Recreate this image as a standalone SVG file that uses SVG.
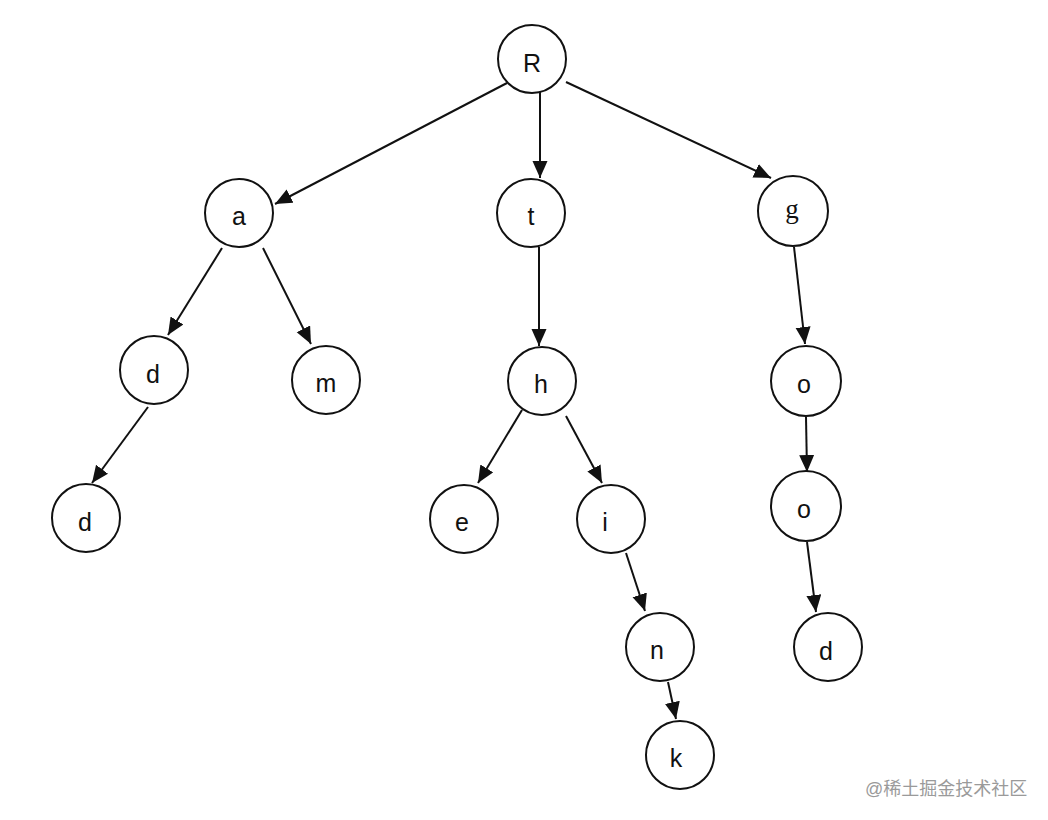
<svg xmlns="http://www.w3.org/2000/svg" width="1048" height="820" viewBox="0 0 1048 820">
<style>
.node circle{fill:#fff;stroke:#111;stroke-width:2}
.node text{font-family:"Liberation Sans","Open Sans",sans-serif;font-size:25px;fill:#111;text-anchor:middle}
.node text.serif{font-family:"Liberation Serif",serif;font-size:27px}
.edges line{stroke:#111;stroke-width:2;marker-end:url(#arr)}
.wm{font-family:"Liberation Sans","Noto Sans CJK SC",sans-serif;font-size:18px;fill:#9a9a9a}
</style>
<defs>
<marker id="arr" markerUnits="userSpaceOnUse" markerWidth="18" markerHeight="16" refX="17" refY="7.5" orient="auto">
<path d="M0,0 L17,7.5 L0,15 z" fill="#111"/>
</marker>
</defs>
<rect width="1048" height="820" fill="#fff"/>
<g class="edges" id="connectors">
<line x1="507" y1="83" x2="275" y2="204"/>
<line x1="540" y1="92" x2="540" y2="178"/>
<line x1="566" y1="82" x2="771" y2="178"/>
<line x1="222" y1="248" x2="168" y2="335"/>
<line x1="263" y1="248" x2="311" y2="344"/>
<line x1="148" y1="407" x2="92" y2="483"/>
<line x1="539" y1="247" x2="539" y2="346"/>
<line x1="522" y1="410" x2="478" y2="483"/>
<line x1="566" y1="416" x2="602" y2="483"/>
<line x1="626" y1="553" x2="645" y2="611"/>
<line x1="668" y1="682" x2="676" y2="719"/>
<line x1="794" y1="247" x2="805" y2="344"/>
<line x1="806" y1="417" x2="807" y2="472"/>
<line x1="807" y1="542" x2="816" y2="612"/>
</g>
<g class="node" id="n-R"><circle cx="532" cy="59" r="34"/><text x="532" y="72">R</text></g>
<g class="node" id="n-a"><circle cx="239" cy="213" r="34"/><text x="239" y="225">a</text></g>
<g class="node" id="n-t"><circle cx="531" cy="213" r="34"/><text x="531" y="225">t</text></g>
<g class="node" id="n-g"><circle cx="793" cy="211" r="35"/><text class="serif" x="792" y="218">g</text></g>
<g class="node" id="n-d1"><circle cx="154" cy="370" r="34"/><text x="153" y="383">d</text></g>
<g class="node" id="n-m"><circle cx="326" cy="380" r="34"/><text x="326" y="392">m</text></g>
<g class="node" id="n-h"><circle cx="542" cy="381" r="34"/><text x="541" y="393">h</text></g>
<g class="node" id="n-d2"><circle cx="86" cy="518" r="34"/><text x="85" y="531">d</text></g>
<g class="node" id="n-e"><circle cx="464" cy="519" r="34"/><text x="462" y="531">e</text></g>
<g class="node" id="n-i"><circle cx="611" cy="519" r="34"/><text x="605" y="531">i</text></g>
<g class="node" id="n-o1"><circle cx="806" cy="381" r="35"/><text x="804" y="393">o</text></g>
<g class="node" id="n-o2"><circle cx="806" cy="506" r="35"/><text x="804" y="518">o</text></g>
<g class="node" id="n-n"><circle cx="660" cy="647" r="34"/><text x="657" y="659">n</text></g>
<g class="node" id="n-d3"><circle cx="828" cy="647" r="34"/><text x="826" y="660">d</text></g>
<g class="node" id="n-k"><circle cx="680" cy="755" r="34"/><text x="676" y="767">k</text></g>
<text class="wm" x="865" y="795">@稀土掘金技术社区</text>
</svg>
